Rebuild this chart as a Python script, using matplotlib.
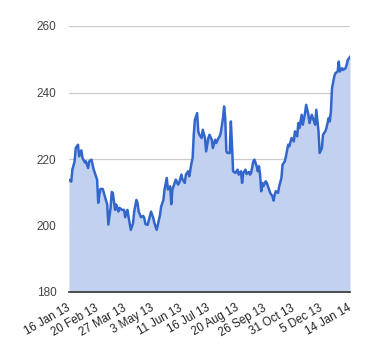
import matplotlib
matplotlib.use("Agg")
from matplotlib import pyplot as plt
import numpy as np

# trading-day index and closing price
day = [0, 2, 3, 5, 6, 8, 9, 11, 12, 14, 15, 17, 18, 20, 22, 23, 25, 26, 27, 28,
       30, 31, 33, 34, 35, 37, 38, 39, 41, 42, 44, 45, 47, 49, 50, 52, 53, 55, 57, 58,
       60, 61, 62, 64, 66, 67, 68, 70, 72, 73, 75, 76, 78, 79, 81, 82, 84, 85, 87, 88,
       90, 91, 92, 94, 95, 97, 98, 100, 101, 103, 104, 106, 107, 109, 110, 111, 112, 114, 115, 116,
       118, 119, 121, 122, 124, 125, 127, 128, 130, 131, 133, 134, 135, 137, 138, 139, 140, 141, 143, 144,
       145, 146, 148, 150, 151, 153, 154, 155, 157, 158, 160, 161, 162, 164, 165, 167, 168, 169, 170, 171,
       172, 173, 175, 176, 178, 179, 181, 182, 183, 184, 186, 187, 189, 190, 192, 193, 195, 196, 198, 200,
       201, 203, 204, 205, 207, 208, 210, 211, 213, 214, 216, 217, 219, 220, 222, 223, 225, 226, 228, 229,
       231, 232, 233, 234, 236, 237, 239, 240, 241, 243, 244, 246, 247, 248, 250]
price = [213.7, 213.2, 216.8, 219.3, 223.3, 224.3, 220.8, 222.6, 220.3, 219.0, 219.3, 217.3, 219.3, 219.8, 216.8, 215.8, 213.8, 206.8, 209.3, 211.0,
         211.0, 209.8, 207.3, 206.3, 200.3, 205.3, 210.1, 209.8, 204.7, 206.3, 204.2, 205.3, 204.7, 204.7, 202.5, 204.7, 202.5, 198.7, 200.7, 204.2,
         207.7, 206.7, 204.2, 202.5, 202.9, 202.2, 200.4, 200.2, 202.8, 204.2, 202.2, 200.7, 198.7, 200.2, 203.2, 205.7, 207.7, 210.8, 214.3, 210.8,
         211.8, 206.4, 210.8, 212.8, 213.8, 212.3, 212.8, 215.3, 213.8, 212.8, 215.3, 216.3, 214.8, 218.8, 220.3, 227.3, 231.8, 233.8, 228.3, 227.3,
         226.3, 228.8, 226.3, 222.3, 226.3, 227.3, 225.8, 223.3, 225.8, 224.8, 226.3, 226.8, 227.8, 232.3, 235.8, 232.3, 222.3, 221.8, 221.8, 231.3,
         224.3, 216.3, 215.8, 216.8, 215.3, 216.3, 212.8, 215.8, 216.8, 215.5, 216.1, 215.3, 215.8, 219.3, 219.8, 217.8, 216.3, 217.8, 215.3, 210.3,
         212.8, 211.8, 213.3, 212.8, 210.8, 209.8, 208.8, 207.5, 209.3, 210.3, 209.8, 211.8, 214.3, 218.3, 219.3, 220.8, 224.3, 223.8, 226.3, 225.3,
         228.3, 226.8, 230.8, 229.3, 233.3, 230.3, 233.8, 236.3, 233.3, 230.8, 233.3, 232.3, 230.3, 234.8, 228.3, 221.8, 223.3, 227.3, 228.3, 229.3,
         232.3, 231.3, 234.3, 241.3, 244.8, 245.8, 246.3, 249.3, 246.3, 247.3, 246.8, 247.3, 248.3, 249.8, 250.7]

tick_days = [0, 25, 50, 75, 100, 125, 150, 175, 200, 225, 250]
tick_labels = ['16 Jan 13', '20 Feb 13', '27 Mar 13', '3 May 13', '11 Jun 13', '16 Jul 13',
               '20 Aug 13', '26 Sep 13', '31 Oct 13', '5 Dec 13', '14 Jan 14']
y_ticks = [180, 200, 220, 240, 260]

plt.rcParams['font.family'] = ['Liberation Sans', 'DejaVu Sans']

fig = plt.figure(figsize=(3.8, 3.6), dpi=100)
ax = fig.add_axes([69/380, 1-292/360, 281/380, 266/360])

ax.fill_between(day, price, 180, color='#c2d1f0', lw=0, zorder=1)
ax.plot(day, price, color='#3366cc', lw=1.8, zorder=3, solid_joinstyle='round')

ax.set_xlim(0, 250)
ax.set_ylim(180, 260)
ax.set_yticks(y_ticks)
ax.set_xticks(tick_days)
ax.set_xticklabels(tick_labels, rotation=30, ha='right', va='center', rotation_mode='anchor')
ax.grid(axis='y', color='#cccccc', lw=0.9, zorder=0)
ax.set_axisbelow(True)

for s in ['top', 'right', 'left']:
    ax.spines[s].set_visible(False)
ax.spines['bottom'].set_color('#333333')
ax.spines['bottom'].set_linewidth(1.2)
ax.spines['bottom'].set_zorder(4)

ax.tick_params(axis='y', length=0, pad=9, labelsize=8.5, labelcolor='#444444')
ax.tick_params(axis='x', length=0, pad=11, labelsize=8.3, labelcolor='#222222')

plt.savefig('out.png', dpi=100)
plt.close()
